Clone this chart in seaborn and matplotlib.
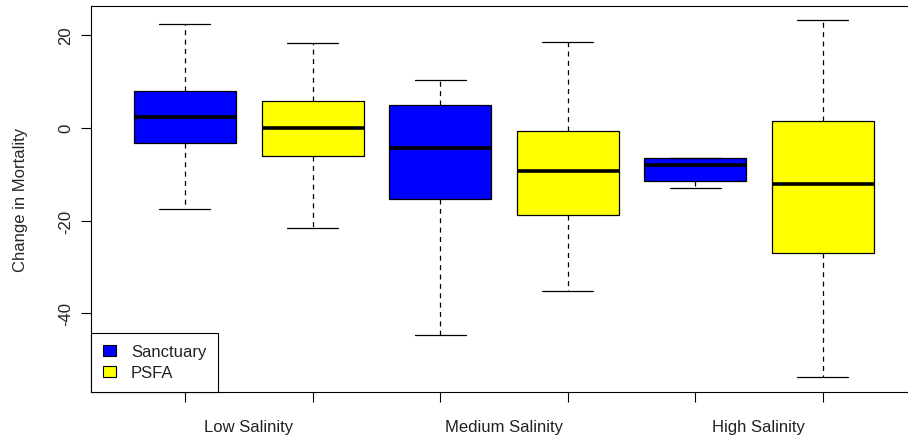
import numpy as np
import pandas as pd
import matplotlib
matplotlib.use("Agg")
import matplotlib.pyplot as plt
from matplotlib.patches import Patch
import seaborn as sns

# ---- data (five-number summaries) ----
salinity = ["Low Salinity", "Medium Salinity", "High Salinity"]
sites = ["Sanctuary", "PSFA"]
# lower whisker, Q1, median, Q3, upper whisker
sanctuary_low = [-17.4, -3.3, 2.4, 8.0, 22.3]
psfa_low = [-21.6, -6.2, 0.0, 5.8, 18.2]
sanctuary_med = [-44.6, -15.4, -4.4, 4.9, 10.3]
psfa_med = [-35.1, -18.8, -9.3, -0.7, 18.4]
sanctuary_high = [-13.0, -11.5, -8.1, -6.5, -6.5]
psfa_high = [-53.7, -27.0, -12.1, 1.4, 23.2]
y_ticks = [-40, -20, 0, 20]
colors = {"Sanctuary": "#0000FF", "PSFA": "#FFFF00"}

groups = {
    ("Low Salinity", "Sanctuary"): sanctuary_low,
    ("Low Salinity", "PSFA"): psfa_low,
    ("Medium Salinity", "Sanctuary"): sanctuary_med,
    ("Medium Salinity", "PSFA"): psfa_med,
    ("High Salinity", "Sanctuary"): sanctuary_high,
    ("High Salinity", "PSFA"): psfa_high,
}
rows = []
for (sal, site), vals in groups.items():
    for v in vals:
        rows.append({"Salinity": sal, "Site": site, "Change": v})
df = pd.DataFrame(rows)

sns.set_style("white")
plt.rcParams["font.family"] = ["Liberation Sans", "DejaVu Sans"]
plt.rcParams["text.color"] = "#222222"
plt.rcParams["xtick.color"] = "#222222"
plt.rcParams["ytick.color"] = "#222222"

W, H = 908, 439
fig = plt.figure(figsize=(W / 100, H / 100), dpi=100)
left_px, right_px, top_px, bottom_px = 91, 916.6, 6.7, 393
ax = fig.add_axes([left_px / W, 1 - bottom_px / H,
                   (right_px - left_px) / W, (bottom_px - top_px) / H])

sns.boxplot(data=df, x="Salinity", y="Change", hue="Site",
            order=salinity, hue_order=sites, palette=colors,
            saturation=1, width=1.0, gap=0.2, linecolor="black",
            linewidth=0.9, showfliers=False, legend=False, ax=ax,
            whiskerprops=dict(linestyle=(0, (4, 3.5)), linewidth=0.9, color="black"),
            capprops=dict(linewidth=0.9, color="black"),
            medianprops=dict(linewidth=2.6, color="black"),
            boxprops=dict(edgecolor="black", linewidth=0.9))

ax.set_xlim(-0.6185, 2.6185)
ax.set_ylim(-56.9, 26.26)

# x: labels at group centres, tick marks at each box
centres = np.arange(len(salinity))
ax.set_xticks(centres)
ax.set_xticklabels(salinity, fontsize=12)
ax.tick_params(axis="x", which="major", length=0, pad=19.5)
ax.set_xticks(np.concatenate([centres - 0.25, centres + 0.25]), minor=True)
ax.tick_params(axis="x", which="minor", length=7.2, width=0.8, color="black",
               direction="out", bottom=True)

ax.set_yticks(y_ticks)
ax.set_yticklabels([str(t) for t in y_ticks], rotation=90, va="center", fontsize=12)
ax.tick_params(axis="y", which="major", length=7.2, width=0.8, color="black",
               direction="out", left=True, pad=5.4)

ax.set_xlabel("")
ax.set_ylabel("Change in Mortality", fontsize=12)
ax.yaxis.set_label_coords((28.5 - left_px) / (right_px - left_px), 0.5)

for s in ax.spines.values():
    s.set_visible(True)
    s.set_color("black")
    s.set_linewidth(0.8)

handles = [Patch(facecolor=colors[s], edgecolor="black", linewidth=0.8) for s in sites]
leg = ax.legend(handles, sites, loc="lower left", bbox_to_anchor=(0, 0),
                borderaxespad=0, fancybox=False, framealpha=1, edgecolor="black",
                fontsize=12, borderpad=0.7, handlelength=0.8, handleheight=0.6,
                handletextpad=0.9, labelspacing=0.37)
leg.get_frame().set_linewidth(0.8)

fig.savefig("out.png", dpi=100)
